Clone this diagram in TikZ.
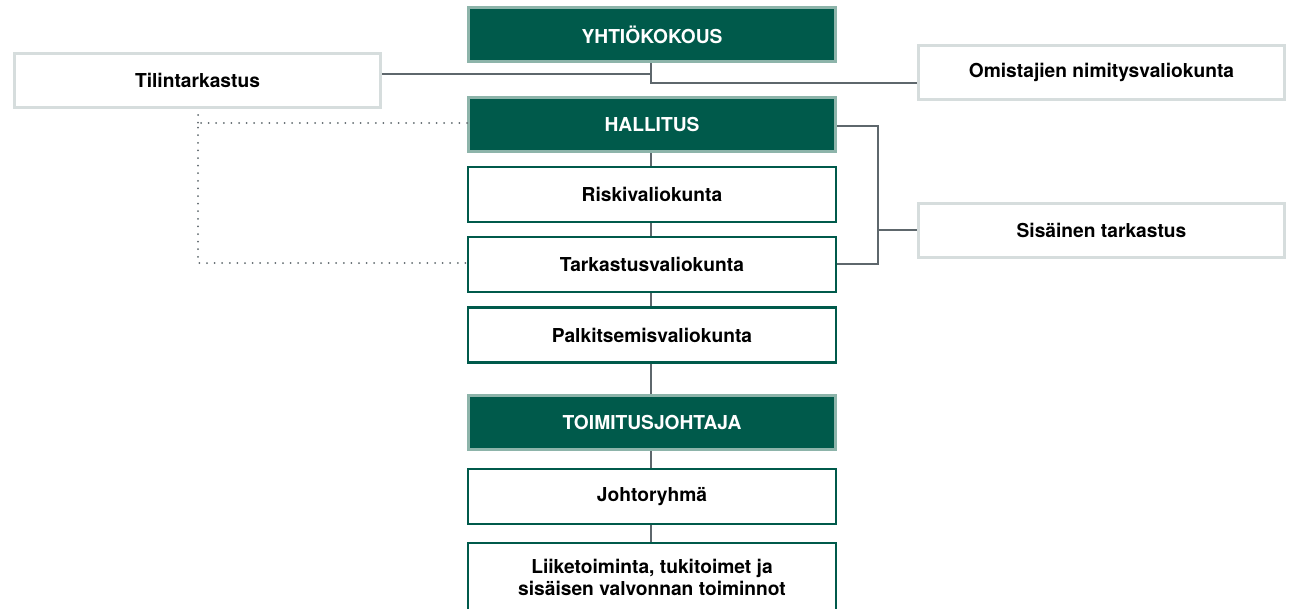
\documentclass[tikz,border=0pt]{standalone}
\usepackage{fontspec}
\setmainfont{TeX Gyre Heros}
\usepackage{xcolor}
\usepackage{tikz}
\usetikzlibrary{calc}
\definecolor{hallgreen}{HTML}{005A4B}
\definecolor{hallrim}{HTML}{8DB4AA}
\definecolor{siderim}{HTML}{D6DDDD}
\definecolor{linkgray}{HTML}{5E676C}

\tikzset{
  boxfont/.style={font=\fontsize{19.2}{23}\bfseries\selectfont},
  greenbox/.style={draw=hallrim,fill=hallgreen,line width=3pt,minimum width=367pt,minimum height=54pt,text=white,boxfont,inner sep=0pt},
  whitebox/.style={draw=hallgreen,fill=white,line width=2.2pt,minimum width=368pt,minimum height=55pt,boxfont,inner sep=0pt,align=center},
  sidebox/.style={draw=siderim,fill=white,line width=3pt,minimum width=366pt,minimum height=54pt,boxfont,inner sep=0pt},
  link/.style={draw=linkgray,line width=1.3pt},
  dotlink/.style={draw=linkgray,line width=2pt,dash pattern=on 0pt off 7.6pt,line cap=round}
}

\begin{document}
\begin{tikzpicture}[x=1pt,y=-1pt]
        \useasboundingbox (0,0) rectangle (1290,608);

        % central column
        \node[greenbox] (yht) at (652,34.5) {YHTIÖKOKOUS};
        \node[greenbox] (hal) at (652,124.5) {HALLITUS};
        \node[whitebox] (risk) at (652,194.5) {Riskivaliokunta};
        \node[whitebox] (tark) at (652,264.5) {Tarkastusvaliokunta};
        \node[whitebox] (palk) at (652,335) {Palkitsemisvaliokunta};
        \node[greenbox] (toim) at (652,422.5) {TOIMITUSJOHTAJA};
        \node[whitebox] (joht) at (652,496.5) {Johtoryhmä};
        \node[whitebox,minimum height=80pt] (liik) at (652,583) {};
        \node[font=\fontsize{19.2}{22}\bfseries\selectfont,align=center] (liiktxt) at (652,577) {Liiketoiminta, tukitoimet ja\\sisäisen valvonnan toiminnot};

        % side boxes
        \node[sidebox] (tilin) at (197.5,80) {Tilintarkastus};
        \node[sidebox] (omis) at (1101.5,72) {Omistajien nimitysvaliokunta};
        \node[sidebox] (sisa) at (1101.5,230) {Sisäinen tarkastus};

        % connectors
        \coordinate (yhtjoin) at (651,83);
        \draw[link] (yht.south -| yhtjoin) -- (yhtjoin) -- (omis.west |- yhtjoin);
        \draw[link] (tilin.east |- 0,74) -- (651,74);
        \draw[link] (hal.south -| yhtjoin) -- (risk.north -| yhtjoin);
        \draw[link] (risk.south -| yhtjoin) -- (tark.north -| yhtjoin);
        \draw[link] (tark.south -| yhtjoin) -- (palk.north -| yhtjoin);
        \draw[link] (palk.south -| yhtjoin) -- (toim.north -| yhtjoin);
        \draw[link] (toim.south -| yhtjoin) -- (joht.north -| yhtjoin);
        \draw[link] (joht.south -| yhtjoin) -- (liik.north -| yhtjoin);

        \coordinate (sisajoin) at (878,230);
        \draw[link] (hal.east |- 0,126) -| (sisajoin) |- (tark.east |- 0,264);
        \draw[link] (sisajoin) -- (sisa.west);

        \draw[dotlink] (hal.west |- 0,123) -- (198,123) -- (198,263) -- (tark.west |- 0,263);
        \draw[dotlink] (198,115) -- (198,123);
    \end{tikzpicture}
\end{document}
